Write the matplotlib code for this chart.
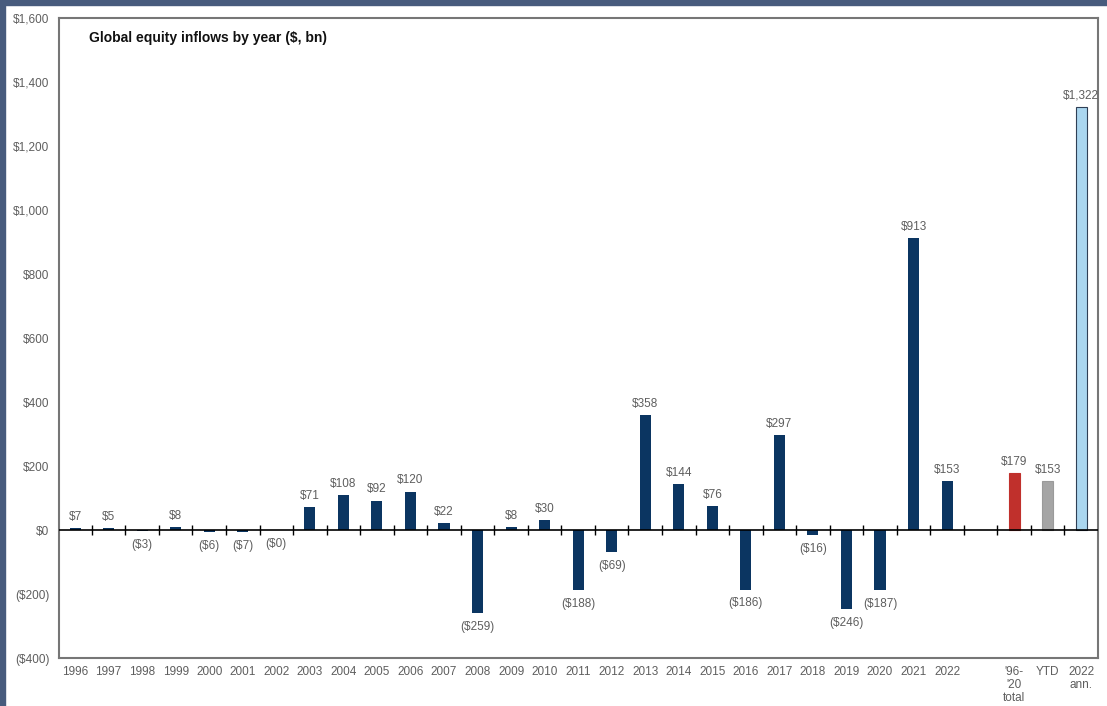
import matplotlib.pyplot as plt
from matplotlib.patches import Rectangle

# Annual global equity fund flows, $bn
years = [str(y) for y in range(1996, 2023)]
year_flows = [7, 5, -3, 8, -6, -7, -0.3, 71, 108, 92, 120, 22, -259, 8, 30,
              -188, -69, 358, 144, 76, -186, 297, -16, -246, -187, 913, 153]

summary_labels = ["'96-\n'20\ntotal", "YTD", "2022\nann."]
summary_flows = [179, 153, 1322]
summary_colors = ["#c0302c", "#a5a5a5", "#aad6ef"]

y_ticks = [-400, -200, 0, 200, 400, 600, 800, 1000, 1200, 1400, 1600]

NAVY = "#0b3561"
GREY_TXT = "#5e5e5e"


def money(v):
    if v < 0:
        return f"(${abs(v):,.0f})"
    return f"${v:,.0f}"


fig = plt.figure(figsize=(11.07, 7.06), dpi=100)
plt.rcParams["font.family"] = ["Liberation Sans", "DejaVu Sans"]

ax = fig.add_axes([59 / 1107, 48 / 706, 1039 / 1107, 640 / 706])

n_years = len(years)
x_years = list(range(n_years))
# one empty slot between the yearly bars and the summary bars
x_summary = [n_years + 1 + i for i in range(len(summary_flows))]

w = 0.33
ax.bar(x_years, year_flows, width=w, color=NAVY, zorder=2)
ax.bar(x_summary, summary_flows, width=w, color=summary_colors,
       edgecolor=["#c0302c", "#9a9a9a", "#2f3f55"], linewidth=0.8, zorder=2)

for x, v in zip(x_years + x_summary, year_flows + summary_flows):
    off = 8 if v >= 0 else -10
    ax.annotate(money(v), (x, v), xytext=(0, off), textcoords="offset points",
                ha="center", va="center", fontsize=8.5, color=GREY_TXT)

# zero line with small separators between categories
ax.axhline(0, color="black", lw=1.2, zorder=3)
halves = [i + 0.5 for i in range(x_summary[-1])]
ax.plot(halves, [0] * len(halves), "|", color="black", ms=7, mew=1.0,
        zorder=3)

ax.set_xlim(-0.48, x_summary[-1] + 0.5)
ax.set_ylim(-400, 1600)

ax.set_yticks(y_ticks)
ax.set_yticklabels([money(v) for v in y_ticks])
ax.set_xticks(x_years + x_summary)
ax.set_xticklabels(years + summary_labels, linespacing=1.1)
ax.tick_params(axis="both", length=0, labelsize=8.5, labelcolor=GREY_TXT)
ax.tick_params(axis="y", pad=7)
ax.tick_params(axis="x", pad=6)

for s in ax.spines.values():
    s.set_color("#767676")
    s.set_linewidth(1.5)

ax.text(0.029, 0.968, "Global equity inflows by year ($, bn)",
        transform=ax.transAxes, ha="left", va="center", fontsize=10,
        fontweight="bold", color="#111111")

# slate frame along the top and left edges
frame = "#475b7d"
fig.patches.append(Rectangle((0, 1 - 5 / 706), 1, 5 / 706,
                             transform=fig.transFigure, color=frame))
fig.patches.append(Rectangle((0, 0), 5 / 1107, 1,
                             transform=fig.transFigure, color=frame))

fig.savefig("out.png", dpi=100)
